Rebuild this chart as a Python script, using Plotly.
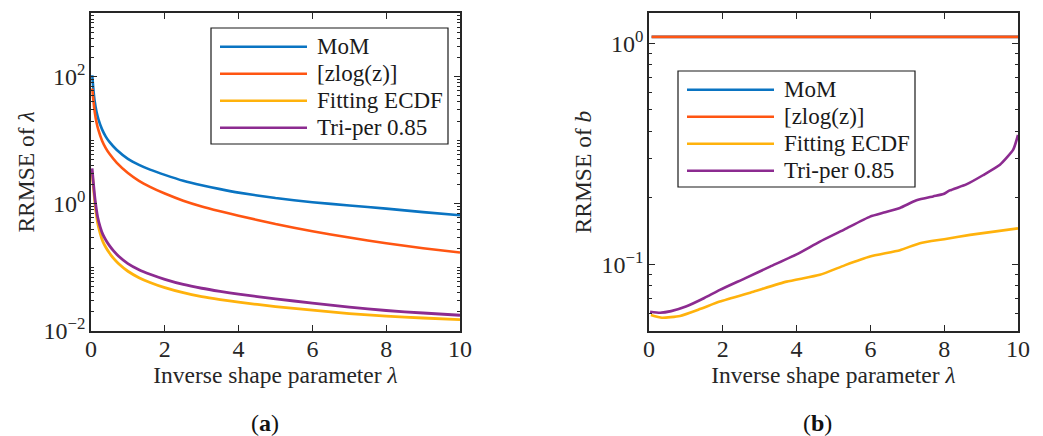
import plotly.graph_objects as go
from plotly.subplots import make_subplots

# ---------------- data ----------------
# Panel (a): RRMSE of lambda
lam_a = [0.035, 0.06, 0.1, 0.15, 0.2, 0.3, 0.4, 0.5, 0.7, 1.0, 1.3, 1.6, 2.0, 2.5, 3.0, 3.5, 4.0, 5.0, 6.0, 7.0, 8.0, 9.0, 10.0]
mom_a = [105, 68, 41, 28, 21.5, 14.8, 11.4, 9.4, 7.0, 5.1, 4.1, 3.45, 2.85, 2.3, 1.95, 1.7, 1.5, 1.23, 1.06, 0.94, 0.84, 0.74, 0.66]
zlog_a = [65, 45, 28, 19, 14.5, 9.8, 7.5, 6.1, 4.4, 3.05, 2.3, 1.85, 1.45, 1.12, 0.91, 0.765, 0.65, 0.48, 0.37, 0.295, 0.24, 0.2, 0.171]

lam_a2 = [0.03, 0.06, 0.09, 0.12, 0.18, 0.25, 0.32, 0.4, 0.5, 0.6, 0.75, 1.0, 1.3, 1.6, 2.0, 2.5, 3.0, 3.5, 4.0, 5.0, 6.0, 7.0, 8.0, 9.0, 10.0]
tri_a = [3.6, 2.3, 1.5, 1.05, 0.62, 0.43, 0.33, 0.27, 0.22, 0.185, 0.15, 0.115, 0.092, 0.078, 0.065, 0.054, 0.047, 0.042, 0.038, 0.032, 0.0275, 0.0238, 0.021, 0.0192, 0.0177]
ecdf_a = [3.2, 2.0, 1.28, 0.87, 0.5, 0.34, 0.255, 0.207, 0.168, 0.141, 0.114, 0.087, 0.069, 0.058, 0.048, 0.04, 0.0348, 0.0312, 0.0284, 0.0242, 0.0213, 0.0188, 0.0171, 0.016, 0.0151]

# Panel (b): RRMSE of b
lam_b_flat = [0.07, 10.0]
mom_b = [1.068, 1.068]
zlog_b = [1.068, 1.068]

lam_b_tri = [0.03, 0.3, 0.6, 1.0, 1.5, 1.92, 2.6, 3.28, 4.0, 4.63, 5.3, 5.99, 6.4, 6.8, 7.25, 7.7, 7.98, 8.15, 8.6, 9.05, 9.51, 9.87, 10.0]
tri_b = [0.0611, 0.0605, 0.0615, 0.0645, 0.0705, 0.0767, 0.0865, 0.0977, 0.111, 0.1268, 0.144, 0.1644, 0.172, 0.180, 0.195, 0.203, 0.208, 0.216, 0.23, 0.253, 0.282, 0.330, 0.385]

lam_b_ecdf = [0.05, 0.35, 0.84, 1.4, 1.92, 2.83, 3.73, 4.63, 5.3, 5.99, 6.8, 7.34, 8.0, 8.7, 9.4, 10.0]
ecdf_b = [0.0591, 0.0574, 0.0585, 0.063, 0.0679, 0.0753, 0.0836, 0.0897, 0.099, 0.1085, 0.116, 0.1247, 0.130, 0.136, 0.141, 0.1455]

names = ["MoM", "[zlog(z)]", "Fitting ECDF", "Tri-per 0.85"]
colors = ["#0A74C2", "#FF5512", "#FFB20C", "#8C2B90"]

x_ticks = [0, 2, 4, 6, 8, 10]
ya_ticks = [1e-2, 1, 1e2]
ya_text = ["10<sup>−2</sup>", "10<sup>0</sup>", "10<sup>2</sup>"]
yb_ticks = [0.1, 1.0]
yb_text = ["10<sup>−1</sup>", "10<sup>0</sup>"]

FONT = "Liberation Serif"
AX = "#262626"
W, H = 1043, 436

# ---------------- figure ----------------
fig = make_subplots(rows=1, cols=2)

series_a = [(lam_a, mom_a), (lam_a, zlog_a), (lam_a2, ecdf_a), (lam_a2, tri_a)]
series_b = [(lam_b_flat, mom_b), (lam_b_flat, zlog_b), (lam_b_ecdf, ecdf_b), (lam_b_tri, tri_b)]

for i, (xs, ys) in enumerate(series_a):
    fig.add_trace(go.Scatter(x=xs, y=ys, mode="lines", name=names[i], showlegend=False,
                             line=dict(color=colors[i], width=2.8 if i >= 2 else 2.6,
                                       shape="spline", smoothing=0.5)), row=1, col=1)
for i, (xs, ys) in enumerate(series_b):
    fig.add_trace(go.Scatter(x=xs, y=ys, mode="lines", name=names[i], showlegend=False,
                             line=dict(color=colors[i], width=2.6, shape="spline", smoothing=0.5)),
                  row=1, col=2)

def minor_vals(lo, hi):
    v = []
    for k in range(lo, hi + 1):
        for m in range(1, 10):
            v.append(m * 10.0 ** k)
    return v

common_x = dict(range=[0, 10], tickvals=x_ticks, ticks="inside", ticklen=6, tickwidth=1.3,
                tickcolor=AX, showline=True, linecolor=AX, linewidth=1.5, mirror="ticks",
                showgrid=False, zeroline=False, tickfont=dict(family=FONT, size=24, color=AX),
                ticklabelstandoff=-5,
                title=dict(text="Inverse shape parameter <i>λ</i>",
                           font=dict(family=FONT, size=23.5, color=AX), standoff=4))
fig.update_xaxes(**common_x, domain=[91 / W, 460 / W], row=1, col=1)
fig.update_xaxes(**common_x, domain=[649 / W, 1018 / W], row=1, col=2)

common_y = dict(type="log", ticks="inside", ticklen=6, tickwidth=1.3, tickcolor=AX,
                showline=True, linecolor=AX, linewidth=1.5, mirror="ticks", showgrid=False,
                zeroline=False, tickfont=dict(family=FONT, size=24, color=AX),
                ticklabelstandoff=-1,
                domain=[1 - 331 / H, 1 - 13 / H])
fig.update_yaxes(**common_y, range=[-2, 3], tickvals=ya_ticks, ticktext=ya_text,
                 minor=dict(tickvals=minor_vals(-2, 2), ticks="inside", ticklen=3, tickcolor=AX, showgrid=False),
                 title=dict(text="RRMSE of <i>λ</i>", font=dict(family=FONT, size=23.5, color=AX), standoff=2),
                 row=1, col=1)
fig.update_yaxes(**common_y, range=[-1.30103, 0.1367], tickvals=yb_ticks, ticktext=yb_text,
                 minor=dict(tickvals=minor_vals(-2, 0), ticks="inside", ticklen=3, tickcolor=AX, showgrid=False),
                 title=dict(text="RRMSE of <i>b</i>", font=dict(family=FONT, size=23.5, color=AX), standoff=3),
                 row=1, col=2)

# ---------------- legends (box, line samples and labels per panel) ----------------
shapes, annotations = [], []
legend_boxes = [  # left, top, right, bottom (px) of each panel's legend box
    (211, 28, 448, 144),
    (678, 71, 915, 187),
]
ROW0, ROWSTEP, LINE_X0, LINE_LEN, TEXT_GAP = 18.7, 27.0, 9, 87, 8
for (bl, bt, br, bb) in legend_boxes:
    shapes.append(dict(type="rect", xref="paper", yref="paper",
                       x0=bl / W, x1=br / W, y0=1 - bb / H, y1=1 - bt / H,
                       line=dict(color="#1a1a1a", width=1.2), fillcolor="white", layer="above"))
    for i, nm in enumerate(names):
        yy = 1 - (bt + ROW0 + i * ROWSTEP) / H
        shapes.append(dict(type="line", xref="paper", yref="paper",
                           x0=(bl + LINE_X0) / W, x1=(bl + LINE_X0 + LINE_LEN) / W, y0=yy, y1=yy,
                           line=dict(color=colors[i], width=2.6), layer="above"))
        annotations.append(dict(text=nm, xref="paper", yref="paper",
                                x=(bl + LINE_X0 + LINE_LEN + TEXT_GAP) / W, y=yy,
                                xanchor="left", yanchor="middle", showarrow=False,
                                font=dict(family=FONT, size=23, color="#1a1a1a")))

annotations += [
    dict(text="(<b>a</b>)", x=265 / W, y=1 - 423 / H, xref="paper", yref="paper",
         xanchor="center", yanchor="middle", showarrow=False,
         font=dict(family=FONT, size=24, color="#111")),
    dict(text="(<b>b</b>)", x=817 / W, y=1 - 423 / H, xref="paper", yref="paper",
         xanchor="center", yanchor="middle", showarrow=False,
         font=dict(family=FONT, size=24, color="#111")),
]

fig.update_layout(
    width=W, height=H,
    margin=dict(l=0, r=0, t=0, b=0, autoexpand=False),
    paper_bgcolor="white", plot_bgcolor="white",
    showlegend=False,
    shapes=shapes,
    annotations=annotations,
)

fig.write_html("out.html")
